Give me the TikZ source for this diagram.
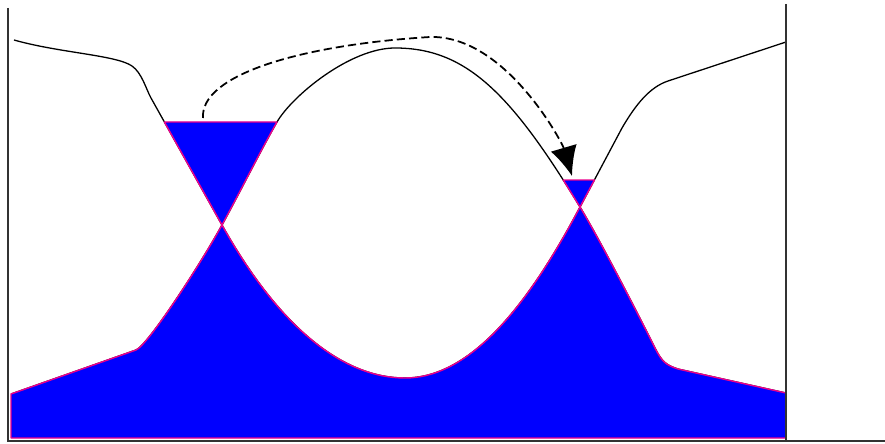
\documentclass[tikz,border=0pt]{standalone}
\usetikzlibrary{arrows.meta}

\begin{document}
\begin{tikzpicture}[x=0.3mm, y=-0.3mm,
  curve/.style={black, line width=1.1pt},
  water/.style={fill=blue, draw=magenta, line width=1.2pt, line join=round},
  axis/.style={black!80, line width=1.2pt},
  jump/.style={dash pattern=on 7pt off 3.5pt, line width=1.5pt,
               -{Latex[length=25pt,width=23pt]}}]
  \useasboundingbox (0,0) rectangle (885,444);

  % crossings, top, bottom and water levels
  \coordinate (X1) at (222,225);
  \coordinate (X2) at (580,207);
  \coordinate (top) at (395,48);
  \coordinate (bottom) at (405,378);
  \coordinate (T1L) at (164.4,122);
  \coordinate (T1R) at (277,122);
  \coordinate (T2L) at (563.3,180);
  \coordinate (T2R) at (594.4,180);

  % the two curves
  \draw[curve] (14,40) .. controls (60,53) and (116,55) .. (132,66)
    .. controls (142,73) and (146,89) .. (151,98) -- (X1)
    .. controls (280,329) and (344,378) .. (bottom)
    .. controls (463,378) and (520,321) .. (X2)
    -- (622,128) .. controls (636,104) and (650,87) .. (668,81) -- (786,42);
  \draw[curve] (11,394) -- (136,350) .. controls (148,345) and (200,265) .. (X1)
    .. controls (240,192) and (262,148) .. (T1R)
    .. controls (292,96) and (350,48) .. (top)
    .. controls (465,48) and (510,91.5) .. (X2)
    .. controls (600,240) and (640,318) .. (655,348)
    .. controls (662,362) and (666,365) .. (678,369) -- (786,393);

  % water
  \draw[water] (11,438) -- (11,394) -- (136,350)
    .. controls (148,345) and (200,265) .. (X1)
    .. controls (280,329) and (344,378) .. (bottom)
    .. controls (463,378) and (520,321) .. (X2)
    .. controls (600,240) and (640,318) .. (655,348)
    .. controls (662,362) and (666,365) .. (678,369)
    -- (786,393) -- (786,438) -- cycle;
  \draw[water] (T1L) -- (T1R) .. controls (262,148) and (240,192) .. (X1) -- cycle;
  \draw[water] (T2L) -- (T2R) -- (X2) -- cycle;

  % axes
  \draw[axis] (8,8) -- (8,441) -- (885,441);
  \draw[axis] (786,4) -- (786,441);

  % dashed arrow
  \coordinate (start) at (203,118);
  \coordinate (tip) at (572,176);
  \draw[jump] (start) .. controls (200,75) and (300,45) .. (430,37)
    .. controls (505,35) and (562,142) .. (tip);
\end{tikzpicture}
\end{document}
